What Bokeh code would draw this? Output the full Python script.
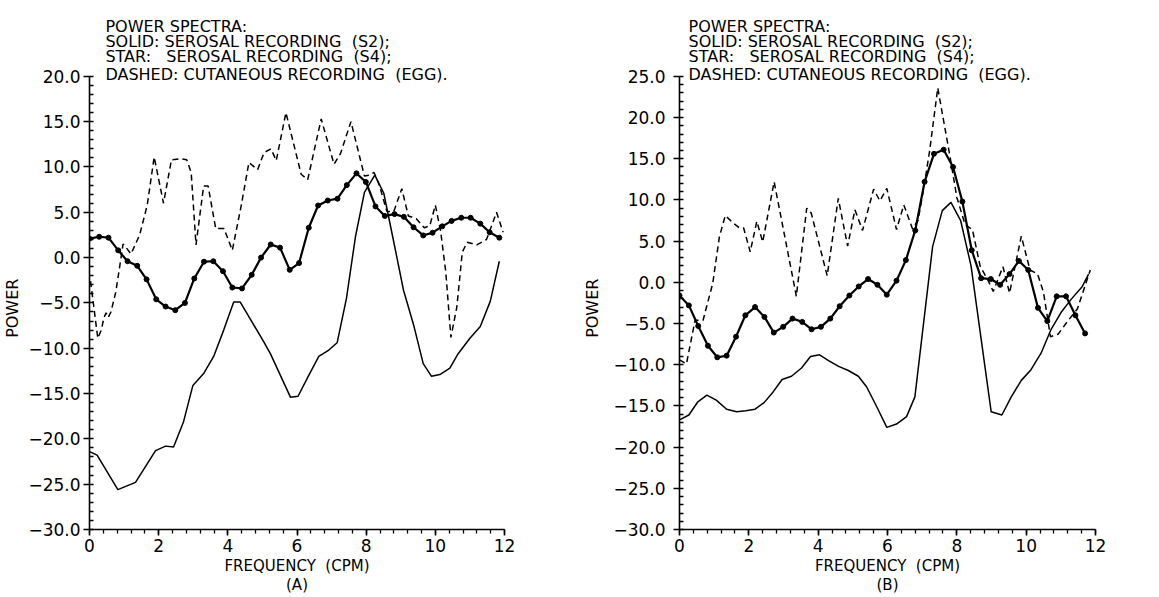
from bokeh.plotting import figure
from bokeh.layouts import row
from bokeh.models import FixedTicker, Range1d
from bokeh.core.properties import value
from bokeh.embed import file_html
from bokeh.resources import INLINE

# ---------------- data ----------------
# Panel A
a_solid_x = [0.00, 0.22, 0.82, 1.33, 1.91, 2.20, 2.43, 2.72, 2.99, 3.30, 3.59, 3.88, 4.17, 4.36,
             5.04, 5.23, 5.52, 5.81, 6.03, 6.34, 6.63, 6.92, 7.16, 7.43, 7.69, 7.95, 8.25, 8.51,
             8.81, 9.08, 9.37, 9.65, 9.89, 10.13, 10.42, 10.66, 11.00, 11.30, 11.59, 11.85]
a_solid_y = [-21.4, -21.8, -25.6, -24.8, -21.3, -20.8, -20.9, -18.1, -14.1, -12.8, -10.9, -8.0, -4.9, -4.9,
             -9.3, -10.6, -13.0, -15.4, -15.3, -13.0, -10.9, -10.2, -9.4, -4.5, 2.3, 7.2, 9.1, 7.1,
             1.5, -3.6, -7.4, -11.7, -13.1, -12.9, -12.2, -10.6, -8.9, -7.6, -4.8, -0.4]

a_star_x = [0.00, 0.28, 0.55, 0.83, 1.10, 1.38, 1.65, 1.93, 2.20, 2.48, 2.76, 3.03, 3.31, 3.58, 3.86,
            4.13, 4.41, 4.69, 4.96, 5.24, 5.51, 5.79, 6.06, 6.34, 6.61, 6.89, 7.17, 7.44, 7.72, 7.99,
            8.27, 8.54, 8.82, 9.09, 9.37, 9.65, 9.92, 10.20, 10.47, 10.75, 11.02, 11.30, 11.57, 11.85]
a_star_y = [2.1, 2.3, 2.2, 0.8, -0.4, -0.9, -2.4, -4.6, -5.4, -5.8, -5.0, -2.3, -0.45, -0.4, -1.5,
            -3.3, -3.4, -1.9, 0.0, 1.45, 1.1, -1.35, -0.6, 3.3, 5.75, 6.3, 6.5, 8.0, 9.3, 8.35,
            5.65, 4.6, 4.8, 4.5, 3.35, 2.45, 2.75, 3.45, 4.05, 4.4, 4.4, 3.75, 2.8, 2.2]

a_dash_x = [0.03, 0.24, 0.34, 0.42, 0.48, 0.54, 0.62, 0.76, 0.90, 0.97, 1.06, 1.20, 1.45, 1.67, 1.87,
            2.14, 2.37, 2.64, 2.81, 2.94, 3.08, 3.30, 3.43, 3.65, 3.89, 4.13, 4.39, 4.61, 4.86, 5.05,
            5.25, 5.40, 5.68, 6.12, 6.31, 6.70, 7.07, 7.26, 7.56, 7.95, 8.08, 8.23, 8.38, 8.60, 8.80,
            9.03, 9.22, 9.45, 9.68, 9.84, 10.00, 10.15, 10.30, 10.45, 10.62, 10.78, 10.92, 11.20, 11.48,
            11.77, 11.96]
a_dash_y = [-2.6, -8.9, -8.0, -6.6, -6.1, -6.6, -6.0, -3.8, -0.3, 1.5, 1.1, 0.4, 2.5, 5.8, 11.1,
            6.0, 10.8, 10.9, 10.8, 9.4, 1.4, 7.9, 7.9, 3.2, 3.2, 0.8, 5.8, 10.5, 9.7, 11.6,
            12.0, 10.7, 16.0, 9.2, 8.6, 15.3, 10.3, 11.5, 15.0, 9.0, 9.1, 9.4, 8.0, 5.1, 5.1,
            7.6, 4.6, 4.3, 3.3, 3.5, 5.8, 3.0, -1.5, -8.8, -5.5, 0.6, 1.7, 1.4, 2.0,
            5.0, 2.8]

# Panel B
b_solid_x = [0.00, 0.27, 0.53, 0.79, 1.06, 1.36, 1.65, 1.91, 2.18, 2.44, 2.70, 2.96, 3.23, 3.52,
             3.78, 4.04, 4.30, 4.59, 4.87, 5.16, 5.40, 5.69, 5.98, 6.26, 6.55, 6.79, 7.30, 7.58,
             7.83, 8.11, 8.41, 8.99, 9.30, 9.57, 9.86, 10.14, 10.43, 10.72, 11.00, 11.29, 11.62, 11.80]
b_solid_y = [-16.7, -16.1, -14.5, -13.7, -14.3, -15.4, -15.7, -15.6, -15.4, -14.6, -13.3, -11.8, -11.4, -10.4,
             -9.0, -8.8, -9.5, -10.2, -10.7, -11.4, -12.7, -15.1, -17.6, -17.2, -16.3, -13.9, 4.3, 8.7,
             9.7, 7.5, 2.0, -15.7, -16.1, -13.9, -11.9, -10.6, -8.6, -5.7, -3.7, -2.1, -0.5, 1.0]

b_star_x = [0.00, 0.27, 0.54, 0.82, 1.09, 1.36, 1.63, 1.90, 2.18, 2.45, 2.72, 2.99, 3.26, 3.54, 3.81,
            4.08, 4.35, 4.62, 4.90, 5.17, 5.44, 5.71, 5.98, 6.26, 6.53, 6.80, 7.07, 7.34, 7.62, 7.89,
            8.16, 8.43, 8.70, 8.98, 9.25, 9.52, 9.79, 10.06, 10.34, 10.61, 10.88, 11.15, 11.42, 11.70]
b_star_y = [-1.6, -2.8, -5.3, -7.7, -9.1, -8.9, -6.6, -4.0, -3.0, -4.2, -6.1, -5.4, -4.4, -4.8, -5.7,
            -5.4, -4.4, -2.9, -1.6, -0.5, 0.4, -0.3, -1.5, 0.2, 2.7, 6.3, 12.2, 15.6, 16.1, 14.0,
            9.8, 3.9, 0.5, 0.4, -0.3, 1.0, 2.6, 1.5, -3.1, -4.7, -1.7, -1.7, -4.0, -6.2]

b_dash_x = [0.00, 0.20, 0.45, 0.68, 0.96, 1.15, 1.32, 1.55, 1.73, 1.85, 2.04, 2.23, 2.40, 2.73, 3.33,
            3.37, 3.67, 3.80, 4.26, 4.58, 4.85, 5.06, 5.28, 5.60, 5.78, 5.98, 6.26, 6.47, 6.72, 6.88,
            7.05, 7.22, 7.45, 7.81, 8.00, 8.24, 8.45, 8.67, 8.88, 9.05, 9.33, 9.52, 9.86, 10.11, 10.33,
            10.50, 10.70, 10.92, 11.20, 11.48, 11.85]
b_dash_y = [-9.4, -9.9, -4.6, -4.6, -0.1, 5.5, 8.1, 7.2, 6.6, 6.6, 3.7, 7.4, 4.9, 12.2, -0.8,
            -1.7, 9.0, 8.4, 0.8, 10.2, 4.4, 8.8, 6.3, 11.3, 9.9, 11.4, 6.4, 9.4, 6.5, 7.5,
            11.5, 16.1, 23.6, 15.1, 10.3, 7.0, 6.4, 2.0, 0.4, -1.1, 1.9, -1.3, 5.6, 1.5, 1.0,
            -1.2, -6.6, -6.3, -4.7, -3.2, 1.5]

# ticks
x_major = [0, 2, 4, 6, 8, 10, 12]
a_y_major = [-30, -25, -20, -15, -10, -5, 0, 5, 10, 15, 20]
b_y_major = [-30, -25, -20, -15, -10, -5, 0, 5, 10, 15, 20, 25]

title_lines = [
    "POWER SPECTRA:",
    "SOLID: SEROSAL RECORDING\u00a0 (S2);",
    "STAR:\u00a0\u00a0 SEROSAL RECORDING\u00a0 (S4);",
    "DASHED: CUTANEOUS RECORDING\u00a0 (EGG).",
]

FONT = "DejaVu Sans"
NB = "\u00a0"
FIG_H = 597
HEAD_PX = 76      # header space above the axes box (pixels)
PLOT_PX = 454     # height of the axes box (pixels)
BOTTOM_PX = FIG_H - HEAD_PX - PLOT_PX
HEAD_BASELINES = [50, 35, 20, 2]   # pixels above the axes box top
# trailing padding moves the rotated "POWER" label down to sit beside the axis box
POWER_LABEL = "POWER" + NB * 17


def make_panel(width, b_left, b_right, y0, y1, y_major, sx, sy, tx, ty, dx, dy,
               panel_tag, title_x, tick_standoff, label_standoff):
    per_px = (y1 - y0) / PLOT_PX
    y_top = y1 + HEAD_PX * per_px
    p = figure(width=width, height=FIG_H,
               x_range=Range1d(0, 12), y_range=Range1d(y0, y_top),
               output_backend="svg", toolbar_location=None,
               min_border_left=b_left, min_border_right=b_right,
               min_border_top=0, min_border_bottom=BOTTOM_PX)
    p.outline_line_color = None
    p.grid.visible = False
    p.background_fill_color = "white"
    p.border_fill_color = "white"

    x_minor = [round(v * 0.4, 2) for v in range(0, 31)]
    y_minor = list(range(y0, y1 + 1))
    p.xaxis.ticker = FixedTicker(ticks=x_major, minor_ticks=x_minor)
    p.yaxis.ticker = FixedTicker(ticks=y_major, minor_ticks=y_minor)
    p.yaxis.bounds = (y0, y1)
    p.yaxis.major_label_overrides = {v: f"{v:.1f}".replace("-", "\u2212") for v in y_major}

    for ax in (p.xaxis[0], p.yaxis[0]):
        ax.axis_line_color = "black"
        ax.axis_line_width = 1.6
        ax.major_tick_line_color = "black"
        ax.major_tick_line_width = 1.6
        ax.minor_tick_line_color = "black"
        ax.minor_tick_line_width = 1.3
        ax.major_label_text_font = FONT
        ax.major_label_text_font_size = "17px"
        ax.major_label_text_color = "black"
        ax.axis_label_text_font = FONT
        ax.axis_label_text_font_style = "normal"
        ax.axis_label_text_color = "black"

    p.xaxis.major_tick_out = 6
    p.xaxis.major_tick_in = 0
    p.xaxis.minor_tick_out = 4
    p.xaxis.minor_tick_in = 0
    p.xaxis.major_label_standoff = 3
    p.xaxis.axis_label = "FREQUENCY" + NB + NB + "(CPM)\n" + panel_tag
    p.xaxis.axis_label_text_font_size = "15px"
    p.xaxis.axis_label_text_line_height = 1.1
    p.xaxis.axis_label_standoff = 2

    p.yaxis.major_tick_out = 6
    p.yaxis.major_tick_in = 0
    p.yaxis.minor_tick_out = 0
    p.yaxis.minor_tick_in = 4
    p.yaxis.major_label_standoff = tick_standoff
    p.yaxis.axis_label = POWER_LABEL
    p.yaxis.axis_label_text_font_size = "16px"
    p.yaxis.axis_label_standoff = label_standoff

    p.line(sx, sy, line_color="black", line_width=1.5)
    p.line(dx, dy, line_color="black", line_width=1.5, line_dash="6 4")
    p.line(tx, ty, line_color="black", line_width=2.2)
    p.scatter(tx, ty, size=5, marker="circle", fill_color="black", line_color="black")

    # header text above the axes box (drawn in the extended frame)
    hy = [y1 + b * per_px for b in HEAD_BASELINES]
    p.text(x=[title_x] * len(title_lines), y=hy, text=title_lines,
           text_font=value(FONT), text_font_size="16px", text_color="black",
           text_align="left", text_baseline="alphabetic")
    return p


pa = make_panel(580, 89, 76, -30, 20, a_y_major,
                a_solid_x, a_solid_y, a_star_x, a_star_y, a_dash_x, a_dash_y,
                "(A)", 0.46, 3, 3)
pb = make_panel(579, 97, 64, -30, 25, b_y_major,
                b_solid_x, b_solid_y, b_star_x, b_star_y, b_dash_x, b_dash_y,
                "(B)", 0.26, 8, 8)

layout = row(pa, pb)
open("out.html", "w").write(file_html(layout, INLINE))
